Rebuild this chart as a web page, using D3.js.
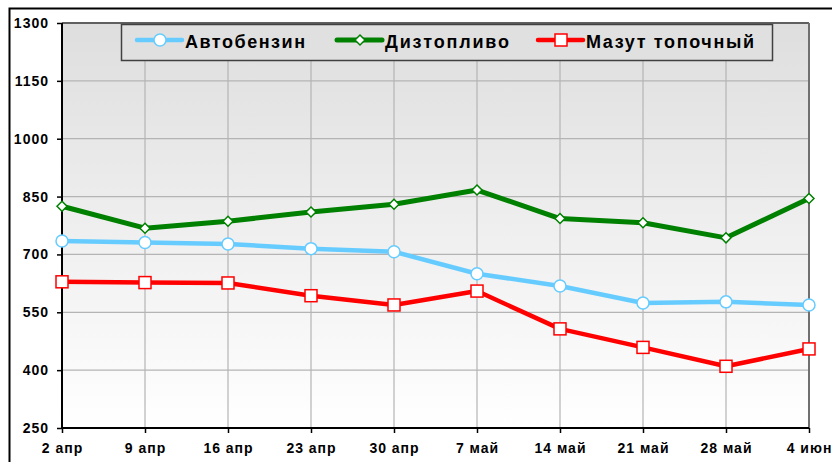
<!DOCTYPE html>
<html>
<head>
<meta charset="utf-8">
<script src="https://cdnjs.cloudflare.com/ajax/libs/d3/7.8.5/d3.min.js"></script>
<style>
  body { margin: 0; background: #fff; }
  svg { display: block; font-family: "Liberation Sans", Arial, sans-serif; }
</style>
</head>
<body>
<svg id="chart" width="832" height="462"></svg>
<script>
var categories = ["2 апр", "9 апр", "16 апр", "23 апр", "30 апр", "7 май", "14 май", "21 май", "28 май", "4 июн"];
var benzin = [735, 731, 727, 715, 707, 650, 618, 574, 577, 569];
var dizel = [825, 768, 786, 810, 830, 867, 793, 782, 743, 845];
var mazut = [629, 627, 626, 593, 569, 605, 507, 459, 410, 455];
var yTicks = [250, 400, 550, 700, 850, 1000, 1150, 1300];

var seriesList = [
  { name: "Автобензин", values: benzin, color: "#66ccff", marker: "circle", width: 4.5, lx: 137, tw: 120 },
  { name: "Дизтопливо", values: dizel, color: "#008000", marker: "diamond", width: 5, lx: 337, tw: 124 },
  { name: "Мазут топочный", values: mazut, color: "#ff0000", marker: "square", width: 4.5, lx: 538, tw: 168 }
];

var svg = d3.select("#chart"),
    margin = { top: 23, right: 23, bottom: 34, left: 62 },
    width = +svg.attr("width") - margin.left - margin.right,
    height = +svg.attr("height") - margin.top - margin.bottom;

var x = d3.scalePoint().domain(categories).range([0, width]);
var y = d3.scaleLinear().domain([250, 1300]).range([height, 0]);

// outer chart frame (cut off by the window)
svg.append("path")
  .attr("d", "M9.5,470 L9.5,8.5 L840,8.5")
  .attr("fill", "none")
  .attr("stroke", "#000")
  .attr("stroke-width", 2);

var grad = svg.append("defs").append("linearGradient")
  .attr("id", "bg").attr("x1", 0).attr("y1", 0).attr("x2", 0).attr("y2", 1);
grad.append("stop").attr("offset", "0%").attr("stop-color", "#dedede");
grad.append("stop").attr("offset", "100%").attr("stop-color", "#ffffff");

var g = svg.append("g")
  .attr("transform", "translate(" + margin.left + "," + margin.top + ")");

g.append("rect")
  .attr("width", width)
  .attr("height", height)
  .attr("fill", "url(#bg)");

// grid
g.append("g").selectAll("line")
  .data(yTicks)
  .enter().append("line")
  .attr("x1", 0).attr("x2", width)
  .attr("y1", function(d) { return y(d); })
  .attr("y2", function(d) { return y(d); })
  .attr("stroke", "#b4b4b4").attr("stroke-width", 1.2);

g.append("g").selectAll("line")
  .data(categories)
  .enter().append("line")
  .attr("x1", function(d) { return x(d); })
  .attr("x2", function(d) { return x(d); })
  .attr("y1", 0).attr("y2", height)
  .attr("stroke", "#b4b4b4").attr("stroke-width", 1.2);

// plot frame top / right
g.append("line").attr("x1", 0).attr("x2", width).attr("y1", 0).attr("y2", 0)
  .attr("stroke", "#606060").attr("stroke-width", 2);
g.append("line").attr("x1", width).attr("x2", width).attr("y1", 0).attr("y2", height)
  .attr("stroke", "#707070").attr("stroke-width", 2);

// axes
var yAxis = d3.axisLeft(y).tickValues(yTicks).tickFormat(d3.format("d")).tickSize(5).tickPadding(8);
var xAxis = d3.axisBottom(x).tickSize(5).tickPadding(10);

var gy = g.append("g").call(yAxis);
var gx = g.append("g").attr("transform", "translate(0," + height + ")").call(xAxis);

[gx, gy].forEach(function(a) {
  a.select(".domain").attr("stroke", "#000").attr("stroke-width", 2);
  a.selectAll(".tick line").attr("stroke", "#000").attr("stroke-width", 1.5);
  a.selectAll(".tick text")
    .attr("fill", "#000")
    .style("font-size", "14px")
    .style("font-weight", "bold")
    .style("letter-spacing", "1px")
    .style("font-family", "'Liberation Sans', Arial, sans-serif");
});
gy.select(".domain").attr("d", "M0," + height + "V0");
gx.select(".domain").attr("d", "M0,0H" + width);

function drawMarker(sel, type, color, cx, cy) {
  if (type == "circle") {
    sel.append("circle").attr("cx", cx).attr("cy", cy).attr("r", 6)
      .attr("fill", "#fff").attr("stroke", color).attr("stroke-width", 1.5);
  } else if (type == "square") {
    sel.append("rect").attr("x", cx - 6).attr("y", cy - 6).attr("width", 12).attr("height", 12)
      .attr("fill", "#fff").attr("stroke", color).attr("stroke-width", 1.5);
  } else {
    sel.append("path")
      .attr("d", "M" + cx + "," + (cy - 5) + "L" + (cx + 5) + "," + cy + "L" + cx + "," + (cy + 5) + "L" + (cx - 5) + "," + cy + "Z")
      .attr("fill", "#fff").attr("stroke", color).attr("stroke-width", 1.5);
  }
}

var line = d3.line()
  .x(function(d, i) { return x(categories[i]); })
  .y(function(d) { return y(d); });

seriesList.forEach(function(s) {
  g.append("path")
    .datum(s.values)
    .attr("fill", "none")
    .attr("stroke", s.color)
    .attr("stroke-width", s.width)
    .attr("stroke-linejoin", "round")
    .attr("d", line);
  var mg = g.append("g");
  s.values.forEach(function(v, i) {
    drawMarker(mg, s.marker, s.color, x(categories[i]), y(v));
  });
});

// legend
var lg = svg.append("g");
lg.append("rect")
  .attr("x", 121.5).attr("y", 24.5).attr("width", 651).attr("height", 36)
  .attr("fill", "#e0e0e0").attr("stroke", "#404040").attr("stroke-width", 1.5);

seriesList.forEach(function(s) {
  lg.append("line")
    .attr("x1", s.lx).attr("x2", s.lx + 45).attr("y1", 40).attr("y2", 40)
    .attr("stroke", s.color).attr("stroke-width", s.width).attr("stroke-linecap", "round");
  drawMarker(lg, s.marker, s.color, s.lx + 23, 40);
  lg.append("text")
    .attr("x", s.lx + 48).attr("y", 48)
    .attr("textLength", s.tw)
    .attr("lengthAdjust", "spacing")
    .style("font-size", "18px")
    .style("font-weight", "bold")
    .text(s.name);
});
</script>
</body>
</html>
